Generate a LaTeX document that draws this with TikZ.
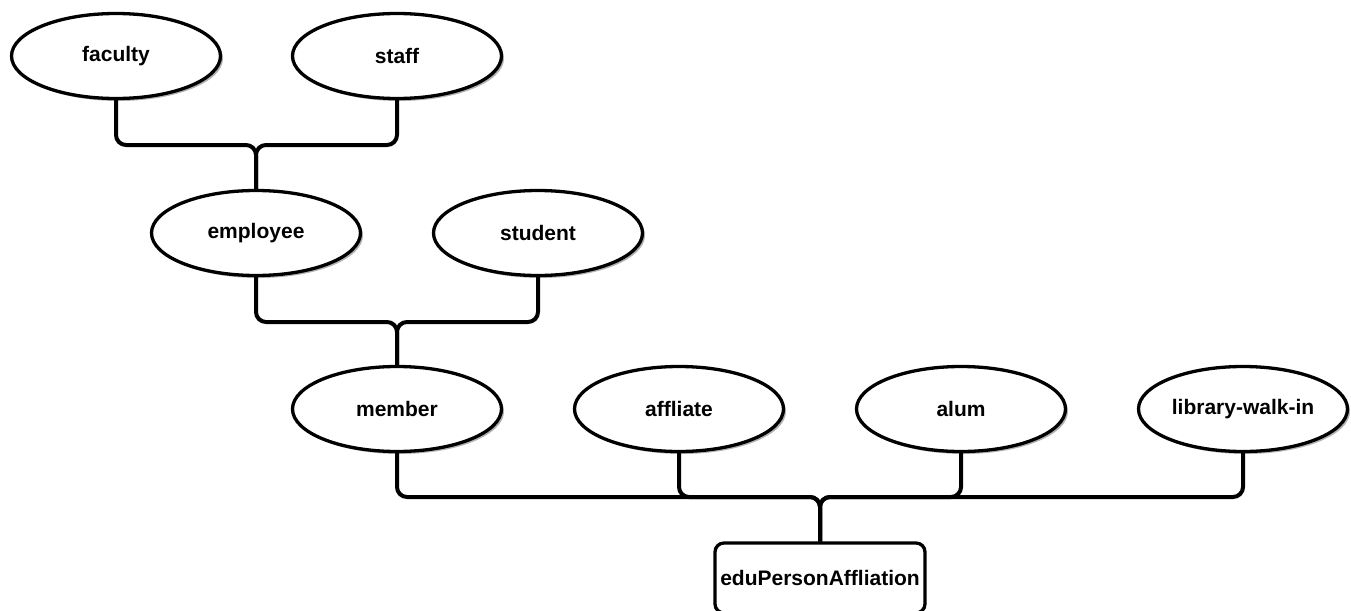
\documentclass[tikz,border=0pt]{standalone}
\usepackage{fontspec}
\setmainfont{Liberation Sans}
\usepackage{tikz}
\usetikzlibrary{shapes.geometric}
\usetikzlibrary{shadows}

\begin{document}
\begin{tikzpicture}[x=1pt, y=-1pt,
   value/.style={ellipse, draw, line width=3.3pt, fill=white, minimum width=209pt,
      minimum height=85pt, inner sep=0pt, font=\fontsize{21}{25}\selectfont\bfseries,
      drop shadow={shadow xshift=2.5pt, shadow yshift=-2.5pt, fill=black!30, opacity=1}},
   rootbox/.style={rectangle, rounded corners=9pt, draw, line width=3.3pt, fill=white,
      minimum width=210pt, minimum height=70pt, inner sep=0pt,
      font=\fontsize{21}{25}\selectfont\bfseries},
   link/.style={line width=4pt, rounded corners=10pt}]
   \useasboundingbox (0,0) rectangle (1351,610);
   % top level
   \node[value] (faculty) at (116,56) {faculty};
   \node[value] (staff) at (397,56) {staff};
   % second level
   \node[value] (employee) at (256,233) {employee};
   \node[value] (student) at (538,233) {student};
   % third level
   \node[value] (member) at (397,409) {member};
   \node[value] (affliate) at (679,409) {affliate};
   \node[value] (alum) at (961,409) {alum};
   \node[value] (walkin) at (1243,409) {library-walk-in};
   % root
   \node[rootbox] (root) at (820,578) {eduPersonAffliation};

   \draw[link] (faculty.south) -- (faculty.south |- 0,145) -- (employee.north |- 0,145) -- (employee.north);
   \draw[link] (staff.south) -- (staff.south |- 0,145) -- (employee.north |- 0,145) -- (employee.north);
   \draw[link] (employee.south) -- (employee.south |- 0,322) -- (member.north |- 0,322) -- (member.north);
   \draw[link] (student.south) -- (student.south |- 0,322) -- (member.north |- 0,322) -- (member.north);
   \draw[link] (member.south) -- (member.south |- 0,497) -- (root.north |- 0,497) -- (root.north);
   \draw[link] (affliate.south) -- (affliate.south |- 0,497) -- (root.north |- 0,497) -- (root.north);
   \draw[link] (alum.south) -- (alum.south |- 0,497) -- (root.north |- 0,497) -- (root.north);
   \draw[link] (walkin.south) -- (walkin.south |- 0,497) -- (root.north |- 0,497) -- (root.north);
\end{tikzpicture}
\end{document}
